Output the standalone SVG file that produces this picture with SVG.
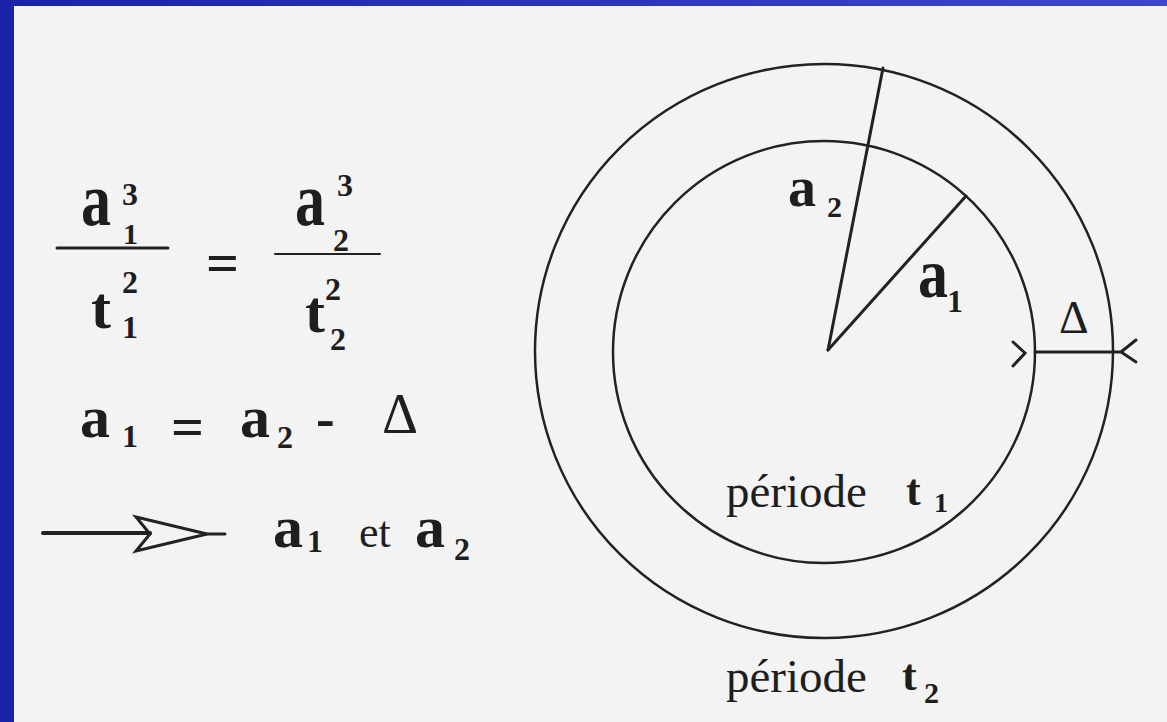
<svg xmlns="http://www.w3.org/2000/svg" width="1167" height="722" viewBox="0 0 1167 722">
<defs>
<linearGradient id="topbar" x1="0" y1="0" x2="1" y2="0">
<stop offset="0" stop-color="#1a22aa"/>
<stop offset="1" stop-color="#3e46cc"/>
</linearGradient>
</defs>
<style>
.b{font-family:"Liberation Serif","Times New Roman",serif;font-weight:bold;fill:#1e1e1e}
.r{font-family:"Liberation Serif","Times New Roman",serif;font-weight:normal;fill:#1e1e1e}
.ln{stroke:#222;fill:none;stroke-linecap:round}
</style>
<rect x="0" y="0" width="1167" height="722" fill="#1a22aa"/>
<rect x="0" y="0" width="1167" height="6" fill="url(#topbar)"/>
<rect x="14" y="6" width="1153" height="716" fill="#f3f3f3"/>

<g id="formula-ratio">
<text class="b" font-size="60" transform="translate(81,225) scale(1,1.28)">a</text>
<text class="b" font-size="30" x="123" y="244">1</text>
<text class="b" font-size="32" x="122" y="205">3</text>
<line class="ln" x1="57" y1="248" x2="168" y2="248" stroke-width="3"/>
<text class="b" font-size="60" x="91" y="328">t</text>
<text class="b" font-size="32" x="122" y="338">1</text>
<text class="b" font-size="32" x="122" y="293">2</text>
<text class="b" font-size="58" x="206" y="282">=</text>
<text class="b" font-size="60" transform="translate(295,225) scale(1,1.28)">a</text>
<text class="b" font-size="32" x="333" y="251">2</text>
<text class="b" font-size="32" x="337" y="196">3</text>
<line class="ln" x1="275" y1="254" x2="380" y2="254" stroke-width="2"/>
<text class="b" font-size="60" x="305" y="332">t</text>
<text class="b" font-size="32" x="330" y="350">2</text>
<text class="b" font-size="32" x="325" y="300">2</text>
</g>

<g id="formula-delta">
<text class="b" font-size="60" x="80" y="437">a</text>
<text class="b" font-size="32" x="122" y="447">1</text>
<text class="b" font-size="58" x="171" y="446">=</text>
<text class="b" font-size="60" x="240" y="437">a</text>
<text class="b" font-size="32" x="277" y="448">2</text>
<text class="b" font-size="56" x="316" y="437">-</text>
<text class="r" font-size="56" x="382" y="433">Δ</text>
</g>

<g id="conclusion">
<line class="ln" x1="43" y1="533" x2="150" y2="533" stroke-width="4"/>
<line class="ln" x1="207" y1="534" x2="225" y2="534" stroke-width="3"/>
<polygon points="136,517 207,534 136,551 150,534" fill="none" stroke="#222" stroke-width="3" stroke-linejoin="miter"/>
<text class="b" font-size="60" x="273" y="547">a</text>
<text class="b" font-size="32" x="307" y="552">1</text>
<text class="r" font-size="44" x="359" y="547">et</text>
<text class="b" font-size="60" x="415" y="547">a</text>
<text class="b" font-size="32" x="454" y="560">2</text>
</g>

<g id="orbit-outer">
<ellipse class="ln" cx="824" cy="351" rx="289" ry="287" stroke-width="2.5"/>
<text class="r" font-size="47" x="726" y="692">période</text>
<text class="b" font-size="44" x="902" y="690">t</text>
<text class="b" font-size="30" x="924" y="703">2</text>
</g>

<g id="orbit-inner">
<circle class="ln" cx="824" cy="352" r="211" stroke-width="2.5"/>
<text class="r" font-size="47" x="726" y="507">période</text>
<text class="b" font-size="44" x="906" y="505">t</text>
<text class="b" font-size="28" x="934" y="512">1</text>
</g>

<g id="connectors">
<line class="ln" x1="828" y1="350" x2="883" y2="68" stroke-width="3"/>
<line class="ln" x1="828" y1="350" x2="966" y2="196" stroke-width="3"/>
<line class="ln" x1="1035" y1="352" x2="1120" y2="352" stroke-width="3"/>
<polyline class="ln" points="1013,342 1025,353 1013,366" stroke-width="3"/>
<polyline class="ln" points="1136,340 1121,352 1136,362" stroke-width="3"/>
</g>

<g id="labels-radii">
<text class="b" font-size="56" x="788" y="206">a</text>
<text class="b" font-size="30" x="827" y="217">2</text>
<text class="b" font-size="60" transform="translate(918,297) scale(1,1.15)">a</text>
<text class="b" font-size="32" x="947" y="312">1</text>
<text class="r" font-size="46" x="1059" y="333">Δ</text>
</g>
</svg>
